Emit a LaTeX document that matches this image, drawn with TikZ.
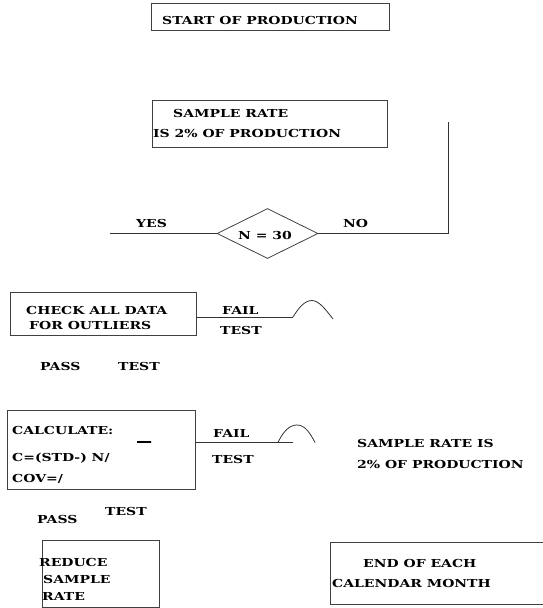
\documentclass[tikz,border=0pt]{standalone}
\usepackage{fontspec}
\setmainfont{DejaVu Serif}[FakeStretch=1.27]
\usetikzlibrary{shapes.geometric}
\tikzset{
  lbl/.style={anchor=base west, inner sep=0pt, font=\bfseries\fontsize{11}{13}\selectfont, text=black},
  boxline/.style={draw=black!75, line width=0.8pt},
  conn/.style={draw=black!80, line width=0.8pt},
}
\begin{document}
\begin{tikzpicture}[x=1pt,y=-1pt]
\useasboundingbox (0,0) rectangle (543,608);
\clip (0,0) rectangle (543,608);
% boxes (drawn as node shapes)
\node[boxline, minimum width=238pt, minimum height=27pt, inner sep=0pt, anchor=north west] (b1) at (151,3) {};
\node[lbl] (t1) at (162,24) {START OF PRODUCTION};

\node[boxline, minimum width=235pt, minimum height=47pt, inner sep=0pt, anchor=north west] (b2) at (152,100) {};
\node[lbl] (t2a) at (173,117) {SAMPLE RATE};
\node[lbl] (t2b) at (153,137) {IS 2\% OF PRODUCTION};

\node[boxline, diamond, minimum width=101pt, minimum height=50pt, inner sep=0pt, aspect=2] (d) at (267.5,233.5) {};
\node[lbl] (tn) at (238,239) {N = 30};
\coordinate (vtop) at (448,122);
\coordinate (yesend) at (110,233.5);
\draw[conn] (vtop) |- (d.east);
\draw[conn] (yesend) -- (d.west);
\node[lbl] (yes) at (136,227) {YES};
\node[lbl] (no) at (343,227) {NO};

\node[boxline, minimum width=186pt, minimum height=43pt, inner sep=0pt, anchor=north west] (b3) at (9.5,292) {};
\node[lbl] (t3a) at (26,314) {CHECK ALL DATA};
\node[lbl] (t3b) at (29,329) {FOR OUTLIERS};
\coordinate (h1a) at (293,317);
\coordinate (h1p) at (312,300.5);
\coordinate (h1b) at (333,319);
\draw[conn] (b3.east |- h1a) -- (h1a);
\draw[conn] (h1a) .. controls (298,309) and (304,300.5) .. (h1p) .. controls (319,300.5) and (326,310) .. (h1b);
\node[lbl] (f1) at (222,314) {FAIL};
\node[lbl] (s1) at (220,334) {TEST};
\node[lbl] (p1) at (40,370) {PASS};
\node[lbl] (s1b) at (118,370) {TEST};

\node[boxline, minimum width=188pt, minimum height=79pt, inner sep=0pt, anchor=north west] (b4) at (7,410) {};
\node[lbl] (t4a) at (12,434) {CALCULATE:};
\node[lbl] (t4b) at (12,461) {C=(STD-) N/};
\node[lbl] (t4c) at (12,482) {COV=/};
\node[draw=black, line width=2pt, minimum width=14pt, minimum height=0pt, inner sep=0pt] (bar) at (144,442) {};
\coordinate (h2a) at (278,442.5);
\coordinate (h2p) at (297,425);
\coordinate (h2b) at (315,442.5);
\coordinate (l2e) at (293,442.5);
\draw[conn] (b4.east |- l2e) -- (l2e);
\draw[conn] (h2a) .. controls (283,432) and (289,425) .. (h2p) .. controls (305,425) and (310,433) .. (h2b);
\node[lbl] (f2) at (213,437) {FAIL};
\node[lbl] (s2) at (212,463) {TEST};
\node[lbl] (r1) at (357,447) {SAMPLE RATE IS};
\node[lbl] (r2) at (357,468) {2\% OF PRODUCTION};
\node[lbl] (p2) at (37,523) {PASS};
\node[lbl] (s3) at (105,515) {TEST};

\node[boxline, minimum width=117pt, minimum height=67pt, inner sep=0pt, anchor=north west] (b5) at (41.5,540) {};
\node[lbl] (t5a) at (39,566) {REDUCE};
\node[lbl] (t5b) at (43,583) {SAMPLE};
\node[lbl] (t5c) at (42,600) {RATE};

\node[boxline, minimum width=230pt, minimum height=62pt, inner sep=0pt, anchor=north west] (b6) at (330,542) {};
\node[lbl] (t6a) at (363,567) {END OF EACH};
\node[lbl] (t6b) at (332,587) {CALENDAR MONTH};
\end{tikzpicture}
\end{document}
